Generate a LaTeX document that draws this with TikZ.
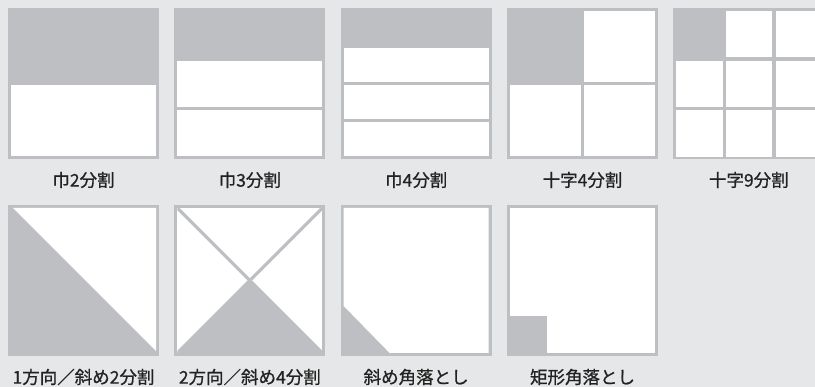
\documentclass[tikz,border=0pt]{standalone}
\usepackage{fontspec}
\newfontfamily\jp[FakeBold=0.8]{Noto Sans CJK JP}
\definecolor{bg}{HTML}{E6E7E8}
\definecolor{fr}{HTML}{BEBFC2}
\definecolor{tx}{HTML}{222222}
\tikzset{
  frame/.style={fill=fr},
  cell/.style={fill=white},
  lbl/.style={font=\jp\fontsize{17.5}{20}\selectfont, text=tx, inner sep=0pt, anchor=center},
  sep/.style={draw=fr, line width=3.2pt}
}
\begin{document}
\begin{tikzpicture}[x=1pt,y=-1pt]
\fill[bg] (0,0) rectangle (815,387);
\useasboundingbox (0,0) rectangle (815,387);
% ---------- row 1 ----------
% 巾2分割
\begin{scope}[shift={(8,8)}]
  \fill[frame] (0,0) rectangle (151,151);
  \fill[cell] (3,77.5) rectangle (148,148);
\end{scope}
\node[lbl] (l1) at (83.5,180) {巾2分割};
% 巾3分割
\begin{scope}[shift={(174.33,8)}]
  \fill[frame] (0,0) rectangle (151,151);
  \fill[cell] (3,52.67) rectangle (148,99.33);
  \fill[cell] (3,101.67) rectangle (148,148);
\end{scope}
\node[lbl] (l2) at (249.83,180) {巾3分割};
% 巾4分割
\begin{scope}[shift={(340.67,8)}]
  \fill[frame] (0,0) rectangle (151,151);
  \fill[cell] (3,40) rectangle (148,74);
  \fill[cell] (3,77) rectangle (148,111);
  \fill[cell] (3,114) rectangle (148,148);
\end{scope}
\node[lbl] (l3) at (416.17,180) {巾4分割};
% 十字4分割
\begin{scope}[shift={(507,8)}]
  \fill[frame] (0,0) rectangle (151,151);
  \fill[cell] (77,3) rectangle (148,74);
  \fill[cell] (3,77) rectangle (74,148);
  \fill[cell] (77,77) rectangle (148,148);
\end{scope}
\node[lbl] (l4) at (582.5,180) {十字4分割};
% 十字9分割
\begin{scope}[shift={(673.33,8)}]
  \fill[frame] (0,0) rectangle (151,151);
  \foreach \i/\j in {1/0,2/0,0/1,1/1,2/1,0/2,1/2,2/2}{
    \fill[cell] ({3+\i*49.67},{3+\j*49.67}) rectangle ({3+\i*49.67+46.33},{3+\j*49.67+46.33});
  }
\end{scope}
\node[lbl] (l5) at (748.83,180) {十字9分割};
% ---------- row 2 ----------
% 1方向／斜め2分割
\begin{scope}[shift={(8,205)}]
  \fill[frame] (0,0) rectangle (151,151);
  \fill[cell] (5,3) -- (148,3) -- (148,146) -- cycle;
\end{scope}
\node[lbl] (l6) at (83.5,377) {1方向／斜め2分割};
% 2方向／斜め4分割
\begin{scope}[shift={(174.33,205)}]
  \fill[frame] (0,0) rectangle (151,151);
  \fill[cell] (3,3) rectangle (148,148);
  \fill[frame] (3,148) -- (75.5,75.5) -- (148,148) -- cycle;
  \begin{scope}
    \clip (3,3) rectangle (148,148);
    \draw[sep] (3,3) -- (148,148);
    \draw[sep] (148,3) -- (3,148);
  \end{scope}
\end{scope}
\node[lbl] (l7) at (249.83,377) {2方向／斜め4分割};
% 斜め角落とし
\begin{scope}[shift={(340.67,205)}]
  \fill[frame] (0,0) rectangle (151,151);
  \fill[cell] (3,3) -- (148,3) -- (148,148) -- (49,148) -- (3,101) -- cycle;
\end{scope}
\node[lbl] (l8) at (416.17,377) {斜め角落とし};
% 矩形角落とし
\begin{scope}[shift={(507,205)}]
  \fill[frame] (0,0) rectangle (151,151);
  \fill[cell] (3,3) rectangle (148,148);
  \fill[frame] (3,111) rectangle (40,148);
\end{scope}
\node[lbl] (l9) at (582.5,377) {矩形角落とし};
\end{tikzpicture}
\end{document}
